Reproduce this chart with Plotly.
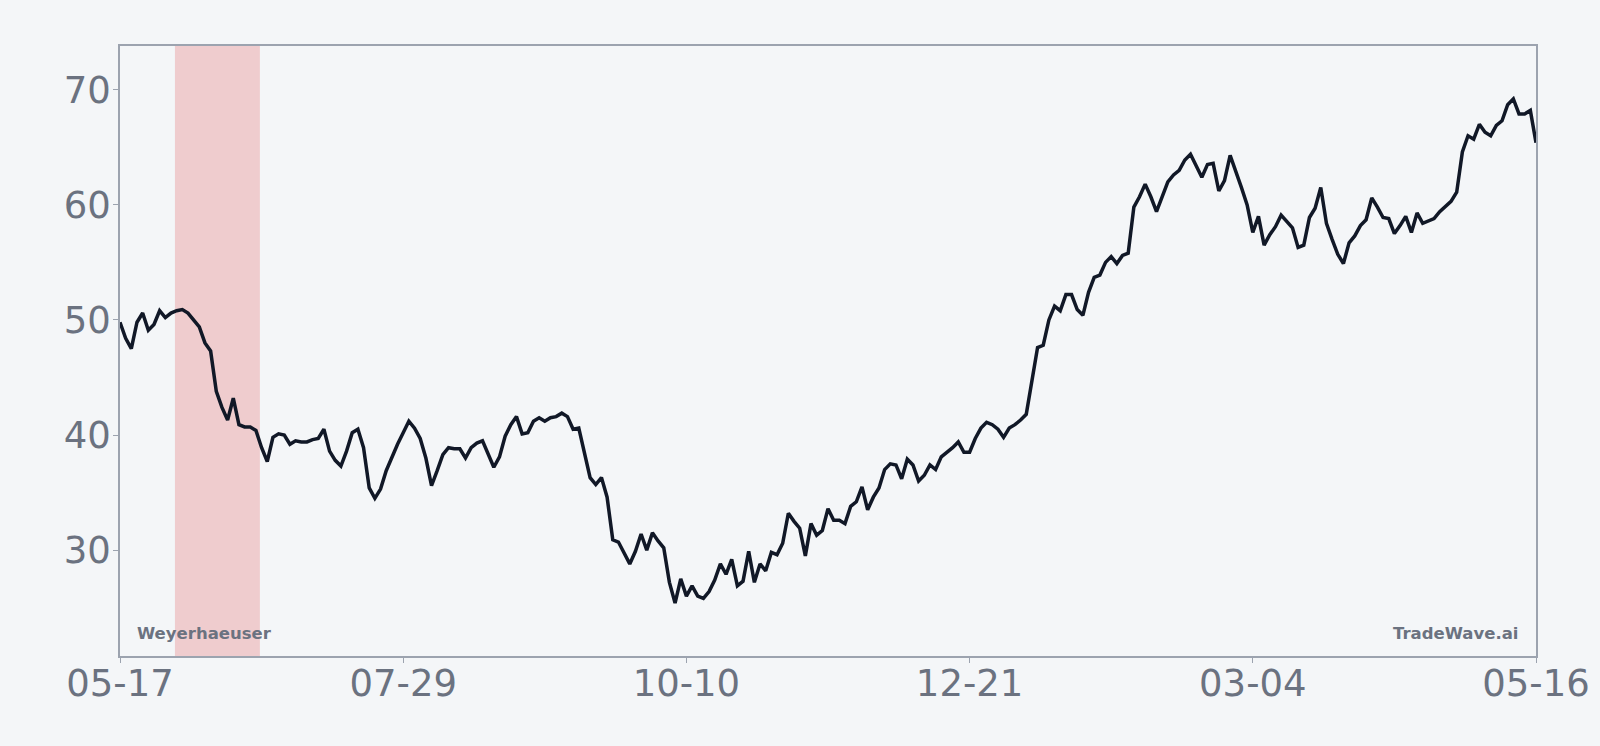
import numpy as np
import plotly.graph_objects as go

# ---- data ----
tick_labels = ["05-17", "07-29", "10-10", "12-21", "03-04", "05-16"]

prices = [
    49.8, 48.4, 47.5, 49.8, 50.6, 49.1, 49.6, 50.8, 50.2, 50.6,
    50.8, 50.9, 50.6, 50.0, 49.4, 48.0, 47.3, 43.8, 42.4, 41.3,
    43.2, 40.9, 40.7, 40.7, 40.4, 38.9, 37.7, 39.8, 40.1, 40.0,
    39.2, 39.5, 39.4, 39.4, 39.6, 39.7, 40.5, 38.6, 37.8, 37.3,
    38.6, 40.2, 40.5, 38.9, 35.4, 34.5, 35.3, 36.9, 38.1, 39.2,
    40.2, 41.2, 40.6, 39.7, 38.0, 35.6, 36.9, 38.3, 38.9, 38.8,
    38.8, 38.0, 38.9, 39.3, 39.5, 38.3, 37.2, 38.1, 39.9, 40.9,
    41.6, 40.1, 40.2, 41.2, 41.5, 41.2, 41.5, 41.6, 41.9, 41.6,
    40.5, 40.6, 38.4, 36.3, 35.7, 36.3, 34.6, 30.9, 30.7, 29.7,
    28.8, 29.9, 31.4, 30.0, 31.5, 30.8, 30.2, 27.2, 25.4, 27.5,
    26.0, 26.9, 26.0, 25.8, 26.4, 27.4, 28.8, 27.9, 29.2, 26.9,
    27.3, 29.9, 27.2, 28.8, 28.2, 29.8, 29.6, 30.6, 33.2, 32.5,
    31.9, 29.5, 32.3, 31.3, 31.7, 33.6, 32.6, 32.6, 32.3, 33.8,
    34.2, 35.5, 33.5, 34.6, 35.4, 37.0, 37.5, 37.4, 36.2, 37.9,
    37.4, 36.0, 36.5, 37.4, 37.0, 38.1, 38.5, 38.9, 39.4, 38.5,
    38.5, 39.7, 40.6, 41.1, 40.9, 40.5, 39.8, 40.6, 40.9, 41.3,
    41.8, 44.7, 47.6, 47.8, 50.0, 51.2, 50.8, 52.2, 52.2, 50.9,
    50.4, 52.4, 53.7, 53.9, 55.0, 55.5, 54.9, 55.6, 55.8, 59.8,
    60.7, 61.8, 60.7, 59.4, 60.7, 62.0, 62.6, 63.0, 63.9, 64.4,
    63.4, 62.4, 63.5, 63.6, 61.2, 62.1, 64.3, 63.0, 61.5, 60.0,
    57.6, 59.0, 56.5, 57.4, 58.1, 59.1, 58.5, 58.0, 56.3, 56.5,
    58.9, 59.7, 61.5, 58.4, 57.0, 55.7, 54.9, 56.7, 57.3, 58.2,
    58.7, 60.6, 59.8, 58.9, 58.8, 57.5, 58.2, 59.0, 57.6, 59.3,
    58.4, 58.6, 58.8, 59.4, 59.9, 60.3, 61.1, 64.6, 66.0, 65.7,
    67.0, 66.3, 66.0, 66.9, 67.3, 68.7, 69.2, 67.9, 67.9, 68.2,
    65.4,
]

# highlighted event window (in trading-day index units)
event_start = 9.7
event_end = 24.7

company = "Weyerhaeuser"
brand = "TradeWave.ai"

# ---- figure ----
n = len(prices)
x = list(range(n))
tick_pos = np.linspace(0, n - 1, len(tick_labels)).tolist()

BG = "#f4f6f8"
AXIS = "#9ca3af"
TXT = "#6b7280"
FONT = "DejaVu Sans"

fig = go.Figure()
fig.add_trace(go.Scatter(
    x=x, y=prices, mode="lines",
    line=dict(color="#111827", width=3.5),
    hoverinfo="skip", showlegend=False,
))

fig.add_shape(
    type="rect", xref="x", yref="paper",
    x0=event_start, x1=event_end, y0=0, y1=1,
    fillcolor="rgba(220,38,38,0.2)", line=dict(width=0), layer="below",
)

fig.add_annotation(
    text=f"<b>{company}</b>", xref="paper", yref="paper",
    x=0.0108, y=0.0365, xanchor="left", yanchor="middle", showarrow=False,
    font=dict(family=FONT, size=16.5, color=TXT),
)
fig.add_annotation(
    text=f"<b>{brand}</b>", xref="paper", yref="paper",
    x=0.989, y=0.0365, xanchor="right", yanchor="middle", showarrow=False,
    font=dict(family=FONT, size=16.5, color=TXT),
)

fig.update_layout(
    width=1600, height=746,
    margin=dict(l=120, r=64, t=46, b=90),
    paper_bgcolor=BG, plot_bgcolor=BG,
    font=dict(family=FONT, color=TXT, size=37),
    showlegend=False,
)
fig.update_xaxes(
    range=[0, n - 1], tickmode="array", tickvals=tick_pos, ticktext=tick_labels,
    showgrid=False, zeroline=False, showline=True, mirror=True,
    linecolor=AXIS, linewidth=1.5, ticks="outside", ticklen=5, tickcolor=AXIS,
    ticklabelstandoff=-11, automargin=False,
    tickfont=dict(family=FONT, size=37, color=TXT),
)
fig.update_yaxes(
    range=[20.8, 73.8], tickmode="array", tickvals=[30, 40, 50, 60, 70],
    showgrid=False, zeroline=False, showline=True, mirror=True,
    linecolor=AXIS, linewidth=1.5, ticks="outside", ticklen=5, tickcolor=AXIS,
    ticklabelstandoff=-5, automargin=False,
    tickfont=dict(family=FONT, size=37, color=TXT),
)

fig.write_html("out.html")
